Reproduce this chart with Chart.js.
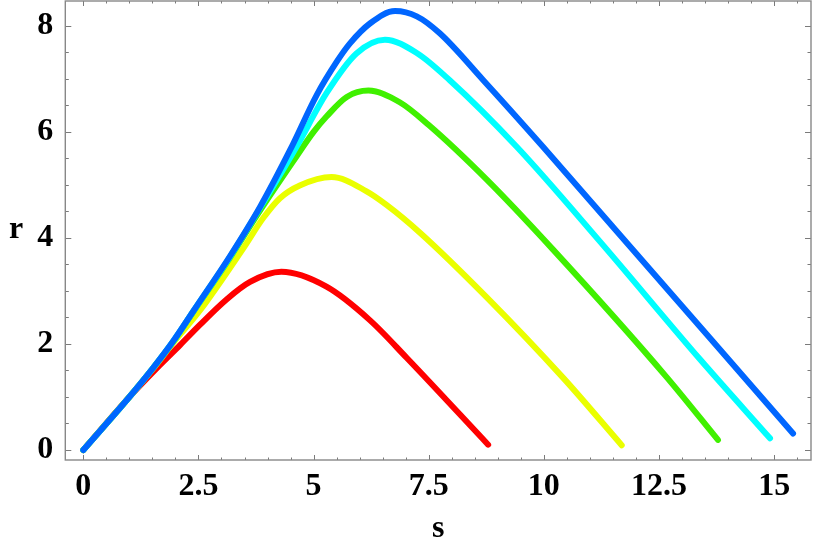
<!DOCTYPE html>
<html>
<head>
<meta charset="utf-8">
<script src="https://cdn.jsdelivr.net/npm/chart.js@4"></script>
<style>
  html, body { margin: 0; padding: 0; background: #fff; }
</style>
</head>
<body>
<canvas id="myChart" width="817" height="545"></canvas>
<script>
// tick labels
const xTicks = [0, 2.5, 5, 7.5, 10, 12.5, 15];
const yTicks = [0, 2, 4, 6, 8];

// curves (s, r)
const redS = [0, 1, 1.66, 2.1, 2.53, 3.11, 3.62, 4.3, 5.28, 6.22, 7.02, 8.79];
const redR = [0, 1, 1.6, 1.98, 2.36, 2.84, 3.17, 3.36, 3.08, 2.45, 1.74, 0.1];

const yellowS = [0, 1, 1.5, 1.95, 2.54, 3.47, 3.91, 4.27, 4.7, 5.39, 6.15, 6.59, 7.31, 8.76, 10.42, 11.69];
const yellowR = [0, 1, 1.52, 2.02, 2.64, 3.8, 4.38, 4.75, 4.99, 5.15, 4.88, 4.62, 4.1, 2.88, 1.36, 0.09];

const greenS = [0, 1, 1.5, 1.95, 2.42, 3.18, 3.84, 4.56, 5.0, 5.28, 5.72, 6.19, 6.87, 7.5, 8.76, 10.2, 12.66, 13.78];
const greenR = [0, 1, 1.53, 2.04, 2.65, 3.62, 4.52, 5.45, 6.0, 6.29, 6.66, 6.78, 6.56, 6.13, 5.1, 3.78, 1.38, 0.19];

const cyanS = [0, 1, 1.5, 1.95, 2.42, 3.18, 3.84, 4.63, 5.28, 5.93, 6.55, 7.24, 7.95, 9.41, 11.22, 13.38, 14.91];
const cyanR = [0, 1, 1.53, 2.05, 2.66, 3.64, 4.57, 5.72, 6.73, 7.48, 7.74, 7.49, 6.98, 5.72, 3.93, 1.72, 0.22];

const blueS = [0, 1, 1.5, 1.95, 2.42, 3.18, 3.84, 4.49, 5.07, 5.5, 5.79, 6.23, 6.77, 7.24, 7.74, 8.68, 9.98, 15.41];
const blueR = [0, 1, 1.53, 2.05, 2.66, 3.65, 4.59, 5.66, 6.7, 7.32, 7.67, 8.05, 8.28, 8.18, 7.86, 6.98, 5.72, 0.31];

const series = [
  { s: redS, r: redR, color: '#ff0000' },
  { s: yellowS, r: yellowR, color: '#eaff00' },
  { s: greenS, r: greenR, color: '#40f000' },
  { s: cyanS, r: cyanR, color: '#00ffff' },
  { s: blueS, r: blueR, color: '#0066ff' }
];

const serif = 'Liberation Serif, Times New Roman, serif';

// Mathematica-style frame with inward ticks, plus unrotated axis labels
const frame = {
  id: 'frame',
  beforeDatasetsDraw(chart) {
    const { ctx, chartArea: a, scales: { x, y } } = chart;
    ctx.save();
    ctx.strokeStyle = '#7a7a7a';
    ctx.lineWidth = 1;
    ctx.beginPath();
    for (let v = 0; v <= 15.5; v += 0.5) {
      const px = Math.round(x.getPixelForValue(v)) + 0.5;
      const len = v % 2.5 === 0 ? 5 : 2.5;
      ctx.moveTo(px, a.bottom); ctx.lineTo(px, a.bottom - len);
      ctx.moveTo(px, a.top); ctx.lineTo(px, a.top + len);
    }
    for (let v = 0; v <= 8; v += 0.5) {
      const py = Math.round(y.getPixelForValue(v)) + 0.5;
      const len = v % 2 === 0 ? 6 : 3.5;
      ctx.moveTo(a.left, py); ctx.lineTo(a.left + len, py);
      ctx.moveTo(a.right, py); ctx.lineTo(a.right - len, py);
    }
    ctx.stroke();
    ctx.strokeStyle = '#888';
    ctx.lineWidth = 1.4;
    ctx.strokeRect(a.left, a.top, a.right - a.left, a.bottom - a.top);

    ctx.fillStyle = '#000';
    ctx.font = 'bold 32px ' + serif;
    ctx.textBaseline = 'alphabetic';
    ctx.textAlign = 'left';
    ctx.fillText('r', 9, 238);
    ctx.textAlign = 'center';
    ctx.fillText('s', (a.left + a.right) / 2, 537);
    ctx.restore();
  }
};

function noPad(scale) {
  scale.paddingTop = 0;
  scale.paddingBottom = 0;
  scale.paddingLeft = 0;
  scale.paddingRight = 0;
}

new Chart(document.getElementById('myChart'), {
  type: 'line',
  data: {
    datasets: series.map((d, i) => ({
      data: d.s.map((v, k) => ({ x: v, y: d.r[k] })),
      borderColor: d.color,
      borderWidth: 6,
      borderCapStyle: 'round',
      borderJoinStyle: 'round',
      pointRadius: 0,
      cubicInterpolationMode: 'monotone',
      fill: false,
      order: series.length - i
    }))
  },
  options: {
    responsive: false,
    animation: false,
    layout: { padding: { top: 1, right: 6, left: 0, bottom: 0 } },
    plugins: { legend: { display: false }, tooltip: { enabled: false } },
    scales: {
      x: {
        type: 'linear',
        min: -0.391,
        max: 15.8,
        afterFit(scale) { scale.height = 85; noPad(scale); },
        afterBuildTicks(scale) { scale.ticks = xTicks.map(v => ({ value: v })); },
        grid: { display: false, drawTicks: false },
        border: { display: false },
        ticks: {
          padding: 8,
          color: '#000',
          maxRotation: 0,
          font: { family: serif, weight: 'bold', size: 32 },
          callback: v => String(v)
        }
      },
      y: {
        type: 'linear',
        min: -0.189,
        max: 8.47,
        afterFit(scale) { scale.width = 65.3; noPad(scale); },
        afterBuildTicks(scale) { scale.ticks = yTicks.map(v => ({ value: v })); },
        grid: { display: false, drawTicks: false },
        border: { display: false },
        ticks: {
          padding: 12,
          color: '#000',
          font: { family: serif, weight: 'bold', size: 32 },
          callback: v => String(v)
        }
      }
    }
  },
  plugins: [frame]
});
</script>
</body>
</html>
